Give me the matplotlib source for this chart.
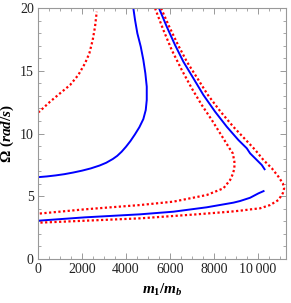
import numpy as np
import matplotlib
matplotlib.use("Agg")
import matplotlib.pyplot as plt
from matplotlib.ticker import MultipleLocator, FixedLocator, FixedFormatter

plt.rcParams['font.family'] = ['Liberation Serif', 'DejaVu Serif']
plt.rcParams['mathtext.fontset'] = 'custom'
plt.rcParams['mathtext.rm'] = 'Liberation Serif:bold'
plt.rcParams['mathtext.it'] = 'Liberation Serif:italic:bold'
plt.rcParams['mathtext.bf'] = 'Liberation Serif:bold'

# blue solid, left branch
blue_left_x = [0, 400, 800, 1200, 1600, 2000, 2400, 2800, 3100, 3400, 3600, 3800,
               4000, 4200, 4400, 4605, 4786, 4895, 4941, 4941, 4877, 4786, 4668, 4514,
               4409, 4332]
blue_left_y = [6.52, 6.58, 6.66, 6.76, 6.89, 7.04, 7.22, 7.45, 7.67, 7.97, 8.22, 8.55,
               8.95, 9.4, 9.92, 10.5, 11.15, 11.87, 12.67, 13.73, 14.8, 15.86, 16.92,
               17.98, 19.04, 19.98]

# blue solid, right branch (upper arm)
blue_up_x = [5500, 5850, 6227, 6605, 7059, 7514, 8045, 8577, 9105, 9486, 9636, 9940,
             10168, 10318]
blue_up_y = [19.98, 18.51, 17.05, 15.72, 14.40, 13.07, 11.74, 10.54, 9.48, 8.82, 8.42,
             7.89, 7.49, 7.09]

# blue solid, right branch (lower arm)
blue_low_x = [0, 2136, 4636, 6150, 7667, 8878, 9180, 9636, 10015, 10288]
blue_low_y = [3.05, 3.32, 3.56, 3.77, 4.12, 4.49, 4.62, 4.88, 5.23, 5.44]

# red dotted, left branch
red_left_x = [0, 60, 545, 1000, 1455, 1830, 2136, 2333, 2485, 2590, 2668]
red_left_y = [11.7, 11.74, 12.53, 13.2, 13.86, 14.66, 15.59, 16.39, 17.45, 18.5, 19.7]

# red dotted, inner loop
red_in_x = [5318, 5695, 6077, 6532, 6986, 7441, 7895, 8273, 8700, 8850, 8923, 8923,
            8850, 8727, 8423, 7667, 6150, 4636, 2136, 0]
red_in_y = [19.98, 18.25, 16.65, 15.06, 13.60, 12.27, 11.08, 10.02, 8.82, 8.42, 7.75,
            7.22, 6.77, 6.29, 5.63, 5.10, 4.57, 4.30, 3.96, 3.61]

# red dotted, outer loop
red_out_x = [5590, 5964, 6364, 6764, 7241, 7718, 8295, 8873, 9445, 9864, 10241, 10623,
             10923, 11123, 11182, 11123, 10923, 10545, 10091, 9636, 9182, 8727, 7136,
             4636, 2136, 0]
red_out_y = [19.98, 18.51, 17.05, 15.72, 14.40, 13.07, 11.74, 10.54, 9.48, 8.70, 7.89,
             7.23, 6.56, 6.03, 5.63, 5.24, 4.70, 4.30, 4.04, 3.95, 3.85, 3.77, 3.55,
             3.24, 3.05, 2.89]

xtick_vals = [0, 2000, 4000, 6000, 8000, 10000]
xtick_labels = ['0', '2000', '4000', '6000', '8000', '10\u2009000']
ytick_vals = [0, 5, 10, 15, 20]

fig = plt.figure(figsize=(2.91, 3.03), dpi=100)
ax = fig.add_axes([0.1306, 0.1452, 0.8524, 0.8284])

blue = (0, 0, 1)
red = (1, 0, 0)
dots = (0, (1, 1.1))

ax.plot(blue_left_x, blue_left_y, color=blue, lw=1.4, solid_capstyle='butt')
ax.plot(blue_up_x, blue_up_y, color=blue, lw=1.4, solid_capstyle='butt')
ax.plot(blue_low_x, blue_low_y, color=blue, lw=1.4, solid_capstyle='butt')
ax.plot(red_left_x, red_left_y, color=red, lw=1.6, linestyle=dots)
ax.plot(red_in_x, red_in_y, color=red, lw=1.6, linestyle=dots)
ax.plot(red_out_x, red_out_y, color=red, lw=1.6, linestyle=dots)

ax.set_xlim(0, 11270)
ax.set_ylim(0, 20)

ax.xaxis.set_major_locator(FixedLocator(xtick_vals))
ax.xaxis.set_major_formatter(FixedFormatter(xtick_labels))
ax.xaxis.set_minor_locator(MultipleLocator(500))
ax.yaxis.set_major_locator(FixedLocator(ytick_vals))
ax.yaxis.set_minor_locator(MultipleLocator(1))

ax.tick_params(which='both', direction='in', top=True, right=True, color='#999999',
               labelsize=10, labelcolor='#222222', pad=3)
ax.tick_params(which='major', length=4, width=0.7)
ax.tick_params(which='minor', length=2, width=0.6)
for s in ax.spines.values():
    s.set_color('#999999')
    s.set_linewidth(0.8)

ax.set_xlabel(r'$m_1/m_b$', fontsize=11, labelpad=4)
ax.set_ylabel(r'$\Omega\ (rad/s)$', fontsize=11, labelpad=3)

fig.savefig('out.png', dpi=100)
